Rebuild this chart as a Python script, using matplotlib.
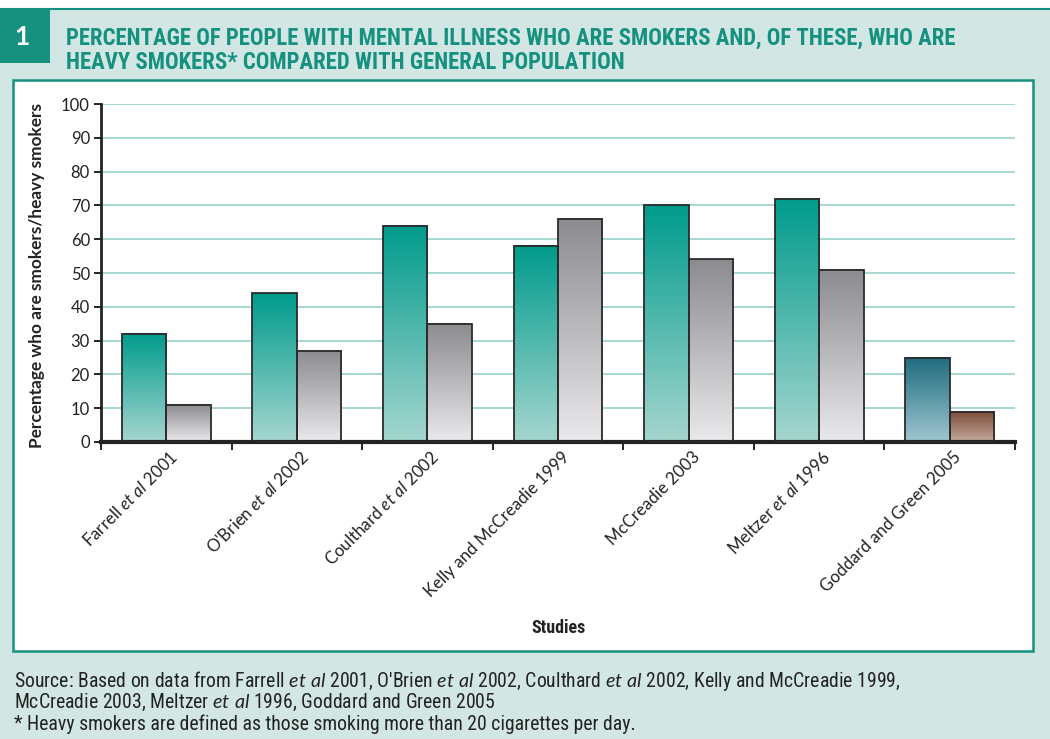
import numpy as np
import matplotlib
matplotlib.use("Agg")
import matplotlib.pyplot as plt
from matplotlib.colors import LinearSegmentedColormap
from matplotlib.patches import Rectangle
from matplotlib import font_manager as fm
from matplotlib.transforms import ScaledTranslation

# ---------------- data ----------------
studies = [r"Farrell $\mathit{et\ al}$ 2001", r"O'Brien $\mathit{et\ al}$ 2002",
           r"Coulthard $\mathit{et\ al}$ 2002", "Kelly and McCreadie 1999",
           "McCreadie 2003", r"Meltzer $\mathit{et\ al}$ 1996", "Goddard and Green 2005"]
smokers = [32, 44, 64, 58, 70, 72, 25]
heavy_smokers = [11, 27, 35, 66, 54, 51, 9]
yticks = [0, 10, 20, 30, 40, 50, 60, 70, 80, 90, 100]

title_lines = ["PERCENTAGE OF PEOPLE WITH MENTAL ILLNESS WHO ARE SMOKERS AND, OF THESE, WHO ARE",
               "HEAVY SMOKERS* COMPARED WITH GENERAL POPULATION"]
footer_lines = [r"Source: Based on data from Farrell $\mathit{et\ al}$ 2001, O'Brien $\mathit{et\ al}$ 2002, "
                r"Coulthard $\mathit{et\ al}$ 2002, Kelly and McCreadie 1999,",
                r"McCreadie 2003, Meltzer $\mathit{et\ al}$ 1996, Goddard and Green 2005",
                "* Heavy smokers are defined as those smoking more than 20 cigarettes per day."]

# ---------------- fonts ----------------
names = {f.name for f in fm.fontManager.ttflist}
body = "Lato" if "Lato" in names else "DejaVu Sans"
cond = None
for c in ["Liberation Sans Narrow", "Roboto Condensed", "Open Sans Condensed", body]:
    if c in names:
        cond = c
        break
plt.rcParams['font.family'] = [body, 'DejaVu Sans']
plt.rcParams['mathtext.fontset'] = 'custom'
plt.rcParams['mathtext.rm'] = body
plt.rcParams['mathtext.it'] = body + ':italic'
plt.rcParams['mathtext.bf'] = body + ':bold'

W, H = 1050, 739
fig = plt.figure(figsize=(W / 100, H / 100), dpi=100)
fig.patch.set_facecolor('white')

def px(x, y):
    return x / W, 1 - y / H

TEAL = '#16917F'
# panel background
fig.patches.append(Rectangle((0, 0), 1, 1 - 8 / H, transform=fig.transFigure,
                             facecolor='#D2E7E3', edgecolor='none', zorder=0))
fig.add_artist(plt.Line2D([0, 1], [1 - 8.5 / H] * 2, transform=fig.transFigure,
                          color=TEAL, lw=1.5, zorder=1))
# number box
fig.patches.append(Rectangle(px(0, 63), 50 / W, 54 / H, transform=fig.transFigure,
                             facecolor=TEAL, edgecolor='none', zorder=1))
fig.text(22 / W, 1 - 37 / H, "1", color='white', fontsize=19, fontweight='bold',
         ha='center', va='center', family=[body, 'DejaVu Sans'])
# inner white box
fig.patches.append(Rectangle(px(13, 651), (1033 - 13) / W, (651 - 80) / H,
                             transform=fig.transFigure, facecolor='white',
                             edgecolor=TEAL, lw=1.8, zorder=1))

# title
tts = []
for i, line in enumerate(title_lines):
    t = fig.text(66 / W, 1 - (38 + 24.5 * i) / H, line, color=TEAL, fontsize=14,
                 fontweight='bold', ha='left', va='center', family=[cond, 'DejaVu Sans'])
    tts.append(t)

# footer
fts = []
for i, line in enumerate(footer_lines):
    t = fig.text(14 / W, 1 - (681 + 21.5 * i) / H, line, color='#222222', fontsize=11.5,
                 ha='left', va='center', family=[cond, 'DejaVu Sans'])
    fts.append(t)

# fit widths of title / footer to the reference
fig.canvas.draw()
r = fig.canvas.get_renderer()
w0 = tts[0].get_window_extent(r).width
for t in tts:
    t.set_fontsize(14 * 896 / w0)
w1 = fts[0].get_window_extent(r).width
for t in fts:
    t.set_fontsize(11.5 * 890 / w1)

# ---------------- axes ----------------
ax = fig.add_axes([101 / W, 1 - 442 / H, (1015 - 101) / W, (442 - 104) / H])
ax.set_facecolor('none')
ax.set_zorder(3)

cm_teal = LinearSegmentedColormap.from_list('t', ['#A5D6CF', '#009B8C'])
cm_gray = LinearSegmentedColormap.from_list('g', ['#EAEAEC', '#8B8B90'])
cm_blue = LinearSegmentedColormap.from_list('b', ['#A0C6D0', '#1E6C7E'])
cm_brown = LinearSegmentedColormap.from_list('r', ['#C6AB9D', '#7B4B37'])

grad = np.linspace(1, 0, 256).reshape(-1, 1)
bw = 0.34
x = np.arange(len(studies)) + 0.5
for i in range(len(studies)):
    c1, c2 = (cm_teal, cm_gray) if i < len(studies) - 1 else (cm_blue, cm_brown)
    for val, cm, off in [(smokers[i], c1, -bw), (heavy_smokers[i], c2, 0)]:
        x0 = x[i] + off
        ax.imshow(grad, extent=[x0, x0 + bw, 0, val], cmap=cm, aspect='auto',
                  origin='upper', zorder=2, interpolation='bilinear')
        ax.add_patch(Rectangle((x0, 0), bw, val, facecolor='none',
                               edgecolor='#2B2B2B', lw=1.3, zorder=3))

ax.set_xlim(0, len(studies))
ax.set_ylim(0, 100)
ax.set_yticks(yticks)
ax.set_yticklabels([str(v) for v in yticks], fontsize=12, color='#222222')
ax.yaxis.grid(True, color='#8FCFC3', lw=1.1, zorder=0)
ax.set_axisbelow(True)
ax.set_xticks(np.arange(len(studies) + 1))
ax.set_xticklabels([])
ax.set_xticks(x, minor=True)
ax.set_xticklabels(studies, minor=True, rotation=45, ha='right', va='center',
                   rotation_mode='anchor', fontsize=12.2, color='#222222')
ax.tick_params(axis='x', which='minor', length=0, pad=9)
ax.tick_params(axis='x', which='major', length=6, width=1.2, direction='out')
ax.tick_params(axis='y', length=5, width=1.2, direction='out', pad=3)
for s in ['top', 'right']:
    ax.spines[s].set_visible(False)
ax.spines['left'].set_linewidth(2)
ax.spines['bottom'].set_linewidth(3)
ax.spines['left'].set_color('#222222')
ax.spines['bottom'].set_color('#222222')

shift = ScaledTranslation(9 / 100, 0, fig.dpi_scale_trans)
for lab in ax.get_xticklabels(minor=True):
    lab.set_transform(lab.get_transform() + shift)

fig.text(37 / W, 1 - 275 / H, "Percentage who are smokers/heavy smokers", rotation=90,
         fontsize=12.4, fontweight='bold', ha='center', va='center', color='#222222')
fig.text(558 / W, 1 - 628 / H, "Studies", fontsize=13, fontweight='bold',
         ha='center', va='center', color='#222222', family=[cond, 'DejaVu Sans'])

fig.savefig('out.png', dpi=100, facecolor=fig.get_facecolor())
